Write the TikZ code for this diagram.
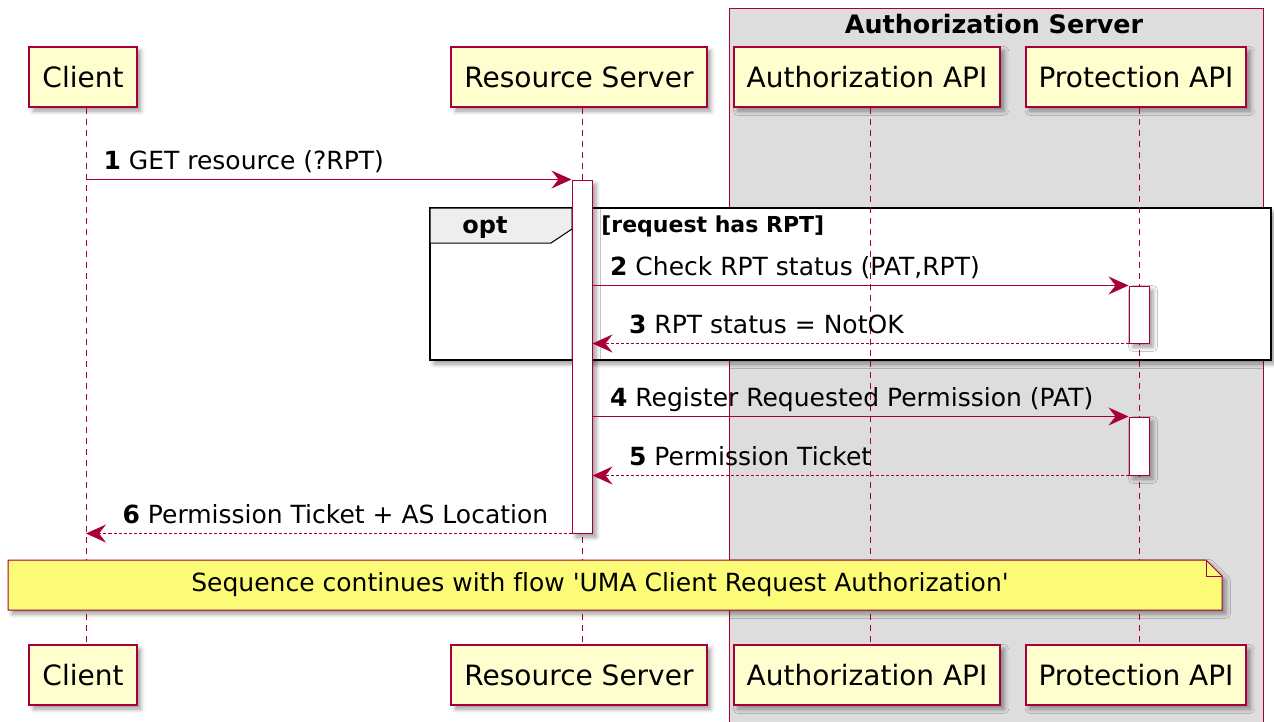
\documentclass[tikz,border=0pt]{standalone}
\usepackage{fontspec}
\setmainfont{DejaVu Sans}[Ligatures=NoCommon]
\usetikzlibrary{arrows.meta,shadows.blur,fit,positioning}

\definecolor{seqred}{HTML}{A80036}
\definecolor{seqbox}{HTML}{FEFECE}
\definecolor{seqnote}{HTML}{FBFB77}
\definecolor{seqgroup}{HTML}{DDDDDD}
\definecolor{seqtab}{HTML}{EEEEEE}

\tikzset{
	seqshadow/.style={blur shadow={shadow xshift=2pt, shadow yshift=-2pt, shadow blur steps=4, shadow opacity=40}},
	party/.style={draw=seqred, fill=seqbox, line width=1pt, minimum height=30pt, inner xsep=6.5pt,
		font=\fontsize{14}{17}\selectfont, seqshadow},
	lifeline/.style={seqred, line width=0.5pt, dash pattern=on 3pt off 2.5pt},
	activation/.style={draw=seqred, fill=white, line width=0.5pt, inner sep=0pt, seqshadow},
	msg/.style={seqred, line width=0.6pt, -{Stealth[length=10pt, width=9pt, inset=3.5pt]}},
	reply/.style={msg, dash pattern=on 1.5pt off 1pt},
	msglabel/.style={text=black, inner sep=0pt, anchor=base west, pos=0, xshift=8.5pt, yshift=5pt,
		font=\fontsize{12.5}{15}\selectfont},
	replylabel/.style={msglabel, pos=1, xshift=9.5pt},
}

\begin{document}
\begin{tikzpicture}[x=0.5pt, y=-0.5pt]
	\useasboundingbox (0,0) rectangle (1274,722);
	
	% Authorization Server box
	\draw[seqred, fill=seqgroup, line width=0.5pt] (729,9) rectangle (1263,730);
	\node[font=\bfseries\fontsize{12.7}{15}\selectfont] (astitle) at (994,24) {Authorization Server};
	
	% opt fragment
	\draw[fill=white, line width=1pt, seqshadow] (430,208) rectangle (1271,360);
	\draw[fill=seqtab, line width=0.5pt] (430,208) -- (572,208) -- (572,229) -- (551,243) -- (430,243) -- cycle;
	\node[font=\bfseries\fontsize{12}{14}\selectfont] (opt) at (485,228) {opt};
	\node[anchor=west, inner sep=0pt, font=\bfseries\fontsize{11}{13}\selectfont] (guard) at (601,226) {[request has RPT]};
	
	% participants
	\node[party] (client) at (83,77) {Client};
	\node[party] (rs) at (579,77) {Resource Server};
	\node[party] (authz) at (867,77) {Authorization API};
	\node[party] (prot) at (1136,77) {Protection API};
	\node[party] (client2) at (83,675) {Client};
	\node[party] (rs2) at (579,675) {Resource Server};
	\node[party] (authz2) at (867,675) {Authorization API};
	\node[party] (prot2) at (1136,675) {Protection API};
	
	\foreach \p in {client,rs,authz,prot} {
		\coordinate (\p-line) at ([xshift=1.5pt]\p.south);
		\draw[lifeline] (\p-line) -- ([xshift=1.5pt]\p2.north);
	}
	
	% activations
	\node[activation, fit={(572,180) (592,533)}] (rsact) {};
	\node[activation, fit={(1129,286) (1149,343)}] (protact1) {};
	\node[activation, fit={(1129,417) (1149,475)}] (protact2) {};
	
	% messages
	\draw[msg] (client-line |- rsact.north) -- (rsact.north west)
		node[msglabel] {\textbf{1} GET resource (?RPT)};
	\draw[msg] (rsact.east |- protact1.north) -- (protact1.north west)
		node[msglabel] {\textbf{2} Check RPT status (PAT,RPT)};
	\draw[reply] (protact1.south west) -- (rsact.east |- protact1.south)
		node[replylabel] {\textbf{3} RPT status = NotOK};
	\draw[msg] (rsact.east |- protact2.north) -- (protact2.north west)
		node[msglabel] {\textbf{4} Register Requested Permission (PAT)};
	\draw[reply] (protact2.south west) -- (rsact.east |- protact2.south)
		node[replylabel] {\textbf{5} Permission Ticket};
	\draw[reply] (rsact.south west) -- (client-line |- rsact.south)
		node[replylabel] {\textbf{6} Permission Ticket + AS Location};
	
	% note
	\draw[seqred, fill=seqnote, line width=0.5pt, seqshadow] (8,560) -- (1206,560) -- (1222,576) -- (1222,610) -- (8,610) -- cycle;
	\draw[seqred, line width=0.5pt] (1206,560) -- (1206,576) -- (1222,576);
	\node[font=\fontsize{12.5}{15}\selectfont] (note) at (600,585)
		{Sequence continues with flow \textquotesingle UMA Client Request Authorization\textquotesingle};
\end{tikzpicture}
\end{document}
